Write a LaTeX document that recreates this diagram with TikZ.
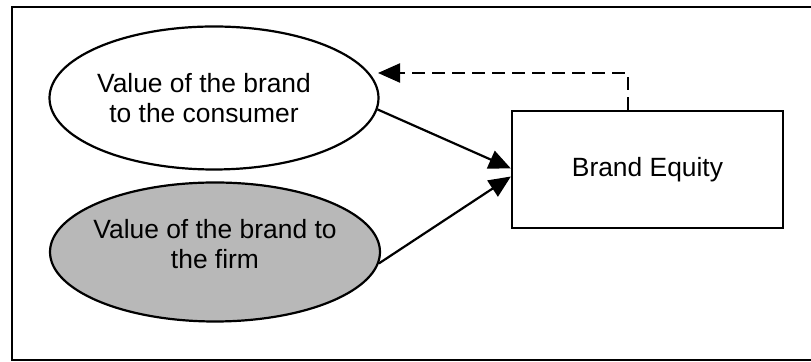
\documentclass[tikz,border=0pt]{standalone}
\usepackage{fontspec}
\setmainfont{Liberation Sans}
\usetikzlibrary{shapes.geometric,arrows.meta}

\tikzstyle{every node}=[font=\fontsize{13.2}{15}\selectfont, align=center]
\tikzstyle{oval}=[ellipse, draw, line width=1.1pt, inner xsep=-6pt, inner ysep=0pt]
\tikzstyle{box}=[rectangle, draw, line width=1.1pt, minimum width=135.5pt, minimum height=58.5pt]
\tikzstyle{link}=[line width=1.1pt, -{Triangle[length=11pt,width=9.5pt]}]

\begin{document}
\begin{tikzpicture}[x=0.5pt,y=-0.5pt]
    \useasboundingbox (0,0) rectangle (811,362);
    \draw[line width=1.1pt] (12,7) rectangle (830,360);
    \node[oval, minimum width=164.5pt, minimum height=71.5pt] (cons) at (214,98) {Value of the brand\hspace*{10pt}\\to the consumer\hspace*{10pt}};
    \node[oval, fill=black!28, minimum width=165pt, minimum height=69.5pt] (firm) at (215,252) {Value of the brand to\\the firm\\[-7pt]};
    \node[box] (equity) at (647.5,169.5) {Brand Equity};
    \coordinate (back) at (378,73);
    \path[link]
    (cons.-4) edge ([yshift=0.5pt]equity.west)
    (firm.-4) edge ([yshift=-3.5pt]equity.west)
	;
    \draw[link, dash pattern=on 6.5pt off 3.5pt] ([xshift=-9.75pt]equity.north) |- (back);
  \end{tikzpicture}
\end{document}
